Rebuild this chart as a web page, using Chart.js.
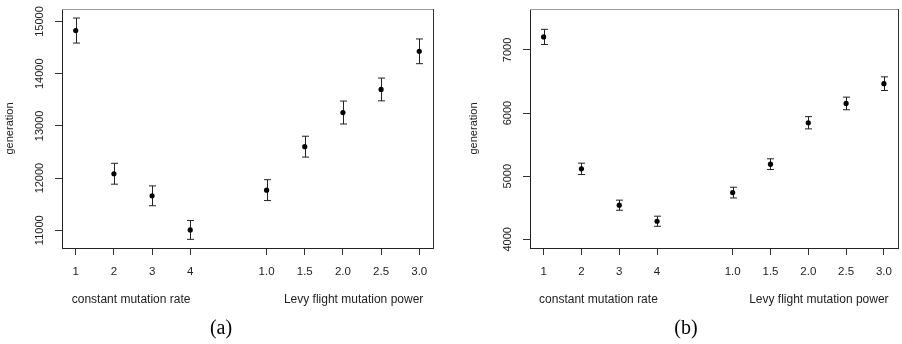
<!DOCTYPE html>
<html>
<head>
<meta charset="utf-8">
<script src="https://cdn.jsdelivr.net/npm/chart.js@4.4.1/dist/chart.umd.min.js"></script>
<style>
  body { margin: 0; background: #fff; width: 902px; height: 344px; position: relative; overflow: hidden; }
  canvas { position: absolute; top: 0; }
</style>
</head>
<body>
<canvas id="chartA" width="451" height="344" style="left:0"></canvas>
<canvas id="chartB" width="451" height="344" style="left:451px"></canvas>
<script>
// positions on the x axis (gap between the two groups) and their labels
const xPos = [1, 2, 3, 4, 6, 7, 8, 9, 10];
const xLabels = ["1", "2", "3", "4", "1.0", "1.5", "2.0", "2.5", "3.0"];
const groupNames = ["constant mutation rate", "Levy flight mutation power"];
const groupCenters = [2.45, 8.28];

// panel (a)
const meanA = [14827, 12083, 11660, 11006, 11769, 12602, 13256, 13698, 14429];
const errA = [240, 200, 190, 180, 200, 200, 220, 218, 237];
const yTicksA = [11000, 12000, 13000, 14000, 15000];

// panel (b)
const meanB = [7206, 5116, 4540, 4286, 4740, 5190, 5846, 6152, 6465];
const errB = [120, 90, 80, 80, 85, 85, 97, 100, 108];
const yTicksB = [4000, 5000, 6000, 7000];

const sans = "'Liberation Sans', Arial, Helvetica, sans-serif";
const serif = "'Liberation Serif', 'Times New Roman', serif";
const ink = "#222";

function createPanel(id, means, errs, yTicks, yMin, yMax, o) {
  const points = xPos.map((x, i) => ({ x: x, y: means[i] }));

  // error bars, box, rotated y labels and captions
  const extras = {
    id: "extras_" + id,
    beforeDatasetsDraw(chart) {
      const ctx = chart.ctx;
      const xs = chart.scales.x;
      const ys = chart.scales.y;
      ctx.save();
      ctx.strokeStyle = ink;
      ctx.lineWidth = 1;
      for (let i = 0; i < xPos.length; i++) {
        const x = Math.round(xs.getPixelForValue(xPos[i])) + 0.5;
        const top = ys.getPixelForValue(means[i] + errs[i]);
        const bot = ys.getPixelForValue(means[i] - errs[i]);
        ctx.beginPath();
        ctx.moveTo(x, top);
        ctx.lineTo(x, bot);
        ctx.moveTo(x - 3.5, top);
        ctx.lineTo(x + 3.5, top);
        ctx.moveTo(x - 3.5, bot);
        ctx.lineTo(x + 3.5, bot);
        ctx.stroke();
      }
      ctx.restore();
    },
    afterDraw(chart) {
      const ctx = chart.ctx;
      const a = chart.chartArea;
      const xs = chart.scales.x;
      const ys = chart.scales.y;
      ctx.save();

      // rest of the box
      ctx.lineWidth = 1;
      ctx.strokeStyle = "#999";
      ctx.beginPath();
      ctx.moveTo(Math.round(a.left), Math.round(a.top) + 0.5);
      ctx.lineTo(Math.round(a.right) + 1, Math.round(a.top) + 0.5);
      ctx.stroke();
      ctx.strokeStyle = "#333";
      ctx.beginPath();
      ctx.moveTo(Math.round(a.right) + 0.5, Math.round(a.top));
      ctx.lineTo(Math.round(a.right) + 0.5, Math.round(a.bottom) + 1);
      ctx.stroke();

      // y tick labels, written vertically
      ctx.fillStyle = ink;
      ctx.font = "11px " + sans;
      ctx.textAlign = "center";
      ctx.textBaseline = "middle";
      for (const t of yTicks) {
        ctx.save();
        ctx.translate(a.left - 22, ys.getPixelForValue(t));
        ctx.rotate(-Math.PI / 2);
        ctx.fillText(String(t), 0, 0);
        ctx.restore();
      }

      // group names under the x axis
      ctx.font = "12px " + sans;
      for (let k = 0; k < groupNames.length; k++) {
        ctx.fillText(groupNames[k], xs.getPixelForValue(groupCenters[k]), 300);
      }

      // caption
      ctx.font = "20px " + serif;
      ctx.fillStyle = "#000";
      ctx.fillText(o.caption, o.captionX, 329);
      ctx.restore();
    }
  };

  return new Chart(document.getElementById(id), {
    type: "scatter",
    data: {
      datasets: [{
        data: points,
        backgroundColor: "#000",
        borderWidth: 0,
        pointRadius: 2.6,
        pointHoverRadius: 2.6
      }]
    },
    options: {
      responsive: false,
      animation: false,
      events: [],
      layout: { padding: { top: 9, right: o.padRight, left: 0, bottom: 0 } },
      plugins: { legend: { display: false }, tooltip: { enabled: false } },
      scales: {
        x: {
          type: "linear",
          min: 0.64,
          max: 10.36,
          afterBuildTicks: (scale) => { scale.ticks = xPos.map((v) => ({ value: v })); },
          afterFit: (scale) => { scale.height = 96; },
          ticks: {
            autoSkip: false,
            maxRotation: 0,
            padding: 10,
            color: ink,
            font: { family: sans, size: 11.5 },
            callback: (v, i) => xLabels[i]
          },
          grid: { drawOnChartArea: false, drawTicks: true, tickLength: 7, color: "#333" },
          border: { display: true, color: ink }
        },
        y: {
          min: yMin,
          max: yMax,
          afterBuildTicks: (scale) => { scale.ticks = yTicks.map((v) => ({ value: v })); },
          afterFit: (scale) => { scale.width = o.axisWidth; },
          ticks: { display: false },
          grid: { drawOnChartArea: false, drawTicks: true, tickLength: 7, color: "#333" },
          border: { display: true, color: ink },
          title: {
            display: true,
            text: "generation",
            color: ink,
            font: { family: sans, size: 11 },
            padding: { top: o.titlePad, bottom: 0 }
          }
        }
      }
    },
    plugins: [extras]
  });
}

createPanel("chartA", meanA, errA, yTicksA, 10660, 15240,
  { padRight: 18, axisWidth: 62, titlePad: 3.5, caption: "(a)", captionX: 221 });
createPanel("chartB", meanB, errB, yTicksB, 3862, 7648,
  { padRight: 2, axisWidth: 79, titlePad: 16.5, caption: "(b)", captionX: 235 });
</script>
</body>
</html>
